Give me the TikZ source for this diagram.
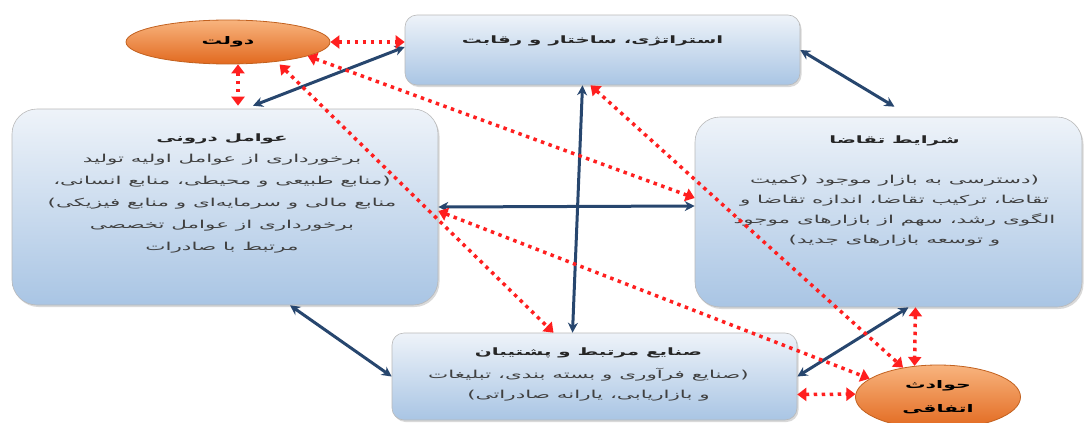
\documentclass[tikz,border=0pt]{standalone}
\usepackage{fontspec}
\newfontfamily\farsi[Script=Arabic,FakeStretch=1.95]{DejaVu Sans}
\TeXXeTstate=1
\usetikzlibrary{arrows.meta,positioning,shapes.geometric,shadows}
\definecolor{boxtop}{HTML}{EEF3F9}
\definecolor{boxbot}{HTML}{A9C5E4}
\definecolor{ovaltop}{HTML}{F8B47E}
\definecolor{ovalbot}{HTML}{E2691F}
\definecolor{ovalline}{HTML}{C2611F}
\definecolor{linkblue}{HTML}{27466E}
\definecolor{linkred}{HTML}{FF1F1F}
\newcommand{\fa}[1]{\beginR #1\endR}
\begin{document}
\begin{tikzpicture}[x=1pt,y=-1pt,line width=0.6pt,
	box/.style={rectangle,rounded corners=#1,draw=gray!55,top color=boxtop,bottom color=boxbot,inner sep=0pt,
		drop shadow={shadow xshift=1.5pt,shadow yshift=-2pt,opacity=0.3}},
	box/.default=12pt,
	oval/.style={ellipse,draw=ovalline,line width=0.8pt,top color=ovaltop,bottom color=ovalbot,inner sep=0pt,
		font=\farsi\bfseries\fontsize{10.5}{24}\selectfont,align=center},
	title/.style={font=\farsi\bfseries\fontsize{10.2}{12}\selectfont,text=black!85,inner sep=1pt},
	body/.style={font=\farsi\fontsize{11}{20}\selectfont,text=black!75,align=center,inner sep=1pt},
	blue link/.style={draw=linkblue,line width=3pt,{Stealth[length=10pt,width=10pt]}-{Stealth[length=10pt,width=10pt]}},
	red link/.style={draw=linkred,line width=3.5pt,dash pattern=on 3.5pt off 4.5pt,{Triangle[length=9pt,width=13pt]}-{Triangle[length=9pt,width=13pt]}}]
	\useasboundingbox (0,0) rectangle (1087,423);
	\node[box] (strat) at (602.5,50) [minimum width=395pt,minimum height=70pt] {};
	\node[box=25pt] (inner) at (225,207) [minimum width=426pt,minimum height=196pt] {};
	\node[box=25pt] (demand) at (888.5,212) [minimum width=387pt,minimum height=190pt] {};
	\node[box] (support) at (594.5,376.5) [minimum width=405pt,minimum height=87pt] {};
	\node[oval] (gov) at (228,42) [minimum width=204pt,minimum height=44pt] {\fa{دولت}};
	\node[oval] (chance) at (938,397) [minimum width=165pt,minimum height=64pt] {\fa{حوادث}\\\fa{اتفاقی}};
	\node[title,below=20pt of strat.north,xshift=-10pt] (stratT) {\fa{استراتژی، ساختار و رقابت}};
	\node[title,below=24pt of inner.north,xshift=-3pt] (innerT) {\fa{عوامل درونی}};
	\node[body,below=7pt of innerT,font=\farsi\fontsize{11}{22}\selectfont] (innerB) {\fa{برخورداری از عوامل اولیه تولید}\\\fa{(منابع طبیعی و محیطی، منابع انسانی،}\\\fa{منابع مالی و سرمایه‌ای و منابع فیزیکی)}\\\fa{برخورداری از عوامل تخصصی}\\\fa{مرتبط با صادرات}};
	\node[title,below=18pt of demand.north,xshift=6pt] (demandT) {\fa{شرایط تقاضا}};
	\node[body,below=26pt of demandT] (demandB) {\fa{(دسترسی به بازار موجود (کمیت}\\\fa{تقاضا، ترکیب تقاضا، اندازه تقاضا و}\\\fa{الگوی رشد، سهم از بازارهای موجود}\\\fa{و توسعه بازارهای جدید)}};
	\node[title,below=14pt of support.north,xshift=-6pt] (supportT) {\fa{صنایع مرتبط و پشتیبان}};
	\node[body,below=7pt of supportT] (supportB) {\fa{(صنایع فرآوری و بسته بندی، تبلیغات}\\\fa{و بازاریابی، یارانه صادراتی)}};
	\draw[blue link] (strat.east) -- ([xshift=6pt,yshift=10pt]demand.north);
	\draw[blue link] ([xshift=28pt,yshift=3pt]inner.north) -- ([yshift=3pt]strat.west);
	\draw[blue link] ([xshift=-20pt]strat.south) -- ([xshift=-22pt]support.north);
	\draw[blue link] (inner.east) -- ([yshift=6pt]demand.west);
	\draw[blue link] ([xshift=65pt]inner.south) -- (support.west);
	\draw[blue link] ([xshift=20pt]demand.south) -- (support.east);
	\draw[red link] (gov.east) -- ([yshift=8pt]strat.west);
	\draw[red link] ([xshift=10pt]gov.south) -- ([xshift=13pt,yshift=3pt]inner.north);
	\draw[red link,shorten <=4pt] (gov.-22) -- ([xshift=-41pt]support.north);
	\draw[red link] (gov.-10) -- ([yshift=14pt]demand.west);
	\draw[red link] ([xshift=-12pt]strat.south) -- (chance.140);
	\draw[red link] ([yshift=-4pt]inner.east) -- (chance.165);
	\draw[red link] ([yshift=-18pt]support.east) -- (chance.178);
	\draw[red link] ([xshift=27pt]demand.south) -- (chance.127);
\end{tikzpicture}
\end{document}
